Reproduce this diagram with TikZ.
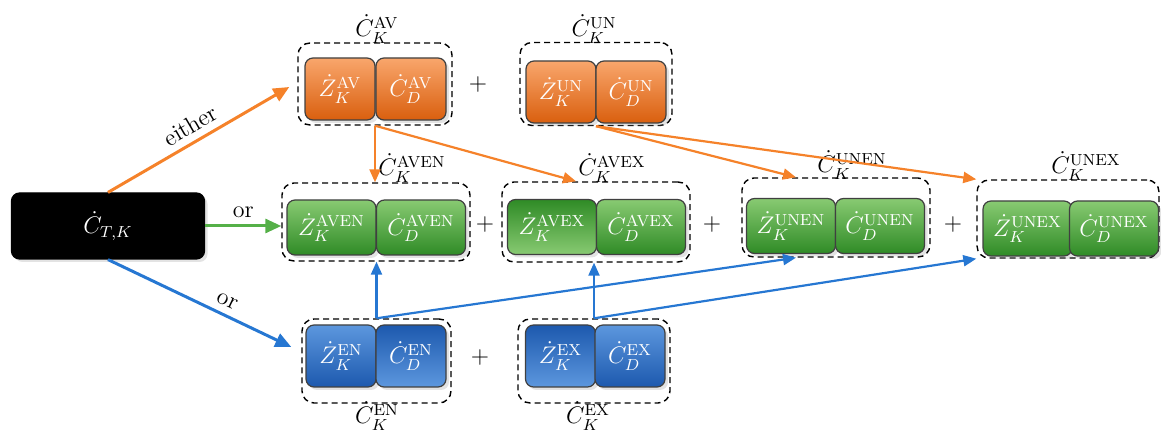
\documentclass[tikz,border=0pt]{standalone}
\usepackage{amsmath, amssymb}
\usepackage{tikz}
\usetikzlibrary{arrows.meta, calc, shadows}

\definecolor{naranjaclaro}{HTML}{F9A66C}
\definecolor{naranjaoscuro}{HTML}{D95F0E}
\definecolor{verdeclaro}{HTML}{88CA72}
\definecolor{verdeoscuro}{HTML}{2F8B26}
\definecolor{azulclaro}{HTML}{5C97DE}
\definecolor{azuloscuro}{HTML}{1D59AE}
\definecolor{lineanaranja}{HTML}{F5822A}
\definecolor{lineaverde}{HTML}{55B048}
\definecolor{lineaazul}{HTML}{2677D2}

\begin{document}
\begin{tikzpicture}[x=0.5pt, y=-0.5pt,
    caja/.style={draw=black!75, line width=0.6pt, rounded corners=4pt, text=white,
      font=\large, inner sep=0pt,
      drop shadow={opacity=0.22, shadow xshift=1.5pt, shadow yshift=-1.5pt}},
    naranja/.style={caja, top color=naranjaclaro, bottom color=naranjaoscuro,
      minimum width=35pt, minimum height=31pt},
    verde/.style={caja, top color=verdeclaro, bottom color=verdeoscuro,
      minimum width=44.5pt, minimum height=27.5pt},
    verdeinv/.style={verde, top color=verdeoscuro, bottom color=verdeclaro},
    azul/.style={caja, top color=azulclaro, bottom color=azuloscuro,
      minimum width=35pt, minimum height=31pt},
    azulinv/.style={azul, top color=azuloscuro, bottom color=azulclaro},
    negra/.style={caja, fill=black, draw=black, minimum width=96.5pt, minimum height=33pt},
    grupo/.style={draw, dash pattern=on 3pt off 2pt, line width=0.7pt, rounded corners=6pt},
    etiqueta/.style={font=\large},
    principal/.style={line width=1.5pt, -{Triangle[length=8pt, width=7pt]}},
    secundaria/.style={line width=1.1pt, -{Triangle[length=6.5pt, width=5.5pt]}}
  ]
  \useasboundingbox (0,0) rectangle (1161,432);

  % Caja principal
  \node at (108,226) [negra] (CT) {$\dot{C}_{T,K}$};

  % Grupos naranjas
  \node at (375,84) [grupo, minimum width=77pt, minimum height=41pt] (AV) {};
  \node at (340,89) [naranja] (ZAV) {$\dot{Z}_K^{\mathrm{AV}}$};
  \node at (411,89) [naranja] (CAV) {$\dot{C}_D^{\mathrm{AV}}$};
  \node at (377,29) [etiqueta] (lAV) {$\dot{C}_K^{\mathrm{AV}}$};

  \node at (596,84) [grupo, minimum width=76pt, minimum height=41.5pt] (UN) {};
  \node at (561,92) [naranja] (ZUN) {$\dot{Z}_K^{\mathrm{UN}}$};
  \node at (631,92) [naranja] (CUN) {$\dot{C}_D^{\mathrm{UN}}$};
  \node at (594,29) [etiqueta] (lUN) {$\dot{C}_K^{\mathrm{UN}}$};

  \node at (478,85) [etiqueta] (mas1) {$+$};

  % Grupos verdes
  \node at (376,222) [grupo, minimum width=94pt, minimum height=39pt] (AVEN) {};
  \node at (331.5,227.5) [verde] (ZAVEN) {$\dot{Z}_K^{\mathrm{AVEN}}$};
  \node at (421,227.5) [verde] (CAVEN) {$\dot{C}_D^{\mathrm{AVEN}}$};
  \node at (412,168) [etiqueta] (lAVEN) {$\dot{C}_K^{\mathrm{AVEN}}$};

  \node at (596,222) [grupo, minimum width=94pt, minimum height=40pt] (AVEX) {};
  \node at (552,227) [verdeinv] (ZAVEX) {$\dot{Z}_K^{\mathrm{AVEX}}$};
  \node at (641,227) [verde] (CAVEX) {$\dot{C}_D^{\mathrm{AVEX}}$};
  \node at (612,168) [etiqueta] (lAVEX) {$\dot{C}_K^{\mathrm{AVEX}}$};

  \node at (836,217.5) [grupo, minimum width=94pt, minimum height=39.5pt] (UNEN) {};
  \node at (791,226) [verde] (ZUNEN) {$\dot{Z}_K^{\mathrm{UNEN}}$};
  \node at (880,226) [verde] (CUNEN) {$\dot{C}_D^{\mathrm{UNEN}}$};
  \node at (852,165) [etiqueta] (lUNEN) {$\dot{C}_K^{\mathrm{UNEN}}$};

  \node at (1068,219) [grupo, minimum width=91pt, minimum height=39pt] (UNEX) {};
  \node at (1027.5,228.5) [verde] (ZUNEX) {$\dot{Z}_K^{\mathrm{UNEX}}$};
  \node at (1114,228.5) [verde] (CUNEX) {$\dot{C}_D^{\mathrm{UNEX}}$};
  \node at (1086,166) [etiqueta] (lUNEX) {$\dot{C}_K^{\mathrm{UNEX}}$};

  \node at (485,225) [etiqueta] (mas2) {$+$};
  \node at (712,225) [etiqueta] (mas3) {$+$};
  \node at (953,225) [etiqueta] (mas4) {$+$};

  % Grupos azules
  \node at (376.5,361) [grupo, minimum width=74.5pt, minimum height=42pt] (EN) {};
  \node at (341,356) [azul] (ZEN) {$\dot{Z}_K^{\mathrm{EN}}$};
  \node at (411,356) [azulinv] (CEN) {$\dot{C}_D^{\mathrm{EN}}$};
  \node at (377,416) [etiqueta] (lEN) {$\dot{C}_K^{\mathrm{EN}}$};

  \node at (594,361) [grupo, minimum width=76pt, minimum height=42pt] (EX) {};
  \node at (560.5,356) [azulinv] (ZEX) {$\dot{Z}_K^{\mathrm{EX}}$};
  \node at (630,356) [azul] (CEX) {$\dot{C}_D^{\mathrm{EX}}$};
  \node at (588,416) [etiqueta] (lEX) {$\dot{C}_K^{\mathrm{EX}}$};

  \node at (480,358) [etiqueta] (mas5) {$+$};

  % Flechas desde la caja principal
  \draw[principal, lineanaranja] (CT.north) -- ($(AV.west)+(-8,3)$)
    node[midway, above, sloped, black, etiqueta] {either};
  \draw[principal, lineaverde] (CT.east) -- (CT.east -| AVEN.west)
    node[midway, above, black, etiqueta] {or};
  \draw[principal, lineaazul] (CT.south) -- ($(EN.west)+(-10,-14)$)
    node[pos=0.62, above, sloped, black, etiqueta] {or};

  % Flechas naranjas
  \draw[secundaria, lineanaranja] (AV.south) -- (AV.south |- AVEN.north);
  \draw[secundaria, lineanaranja] (AV.south) -- ($(AVEX.north)+(-20,0)$);
  \draw[secundaria, lineanaranja] (UN.south) -- ($(UNEN.north)+(-40,0)$);
  \draw[secundaria, lineanaranja] (UN.south) -- (UNEX.north west);

  % Flechas azules
  \draw[secundaria, lineaazul] (EN.north) -- (EN.north |- AVEN.south);
  \draw[secundaria, lineaazul] (EN.north) -- ($(UNEN.south)+(-40,0)$);
  \draw[secundaria, lineaazul] (EX.north) -- (EX.north |- AVEX.south);
  \draw[secundaria, lineaazul] (EX.north) -- (UNEX.south west);
\end{tikzpicture}
\end{document}
